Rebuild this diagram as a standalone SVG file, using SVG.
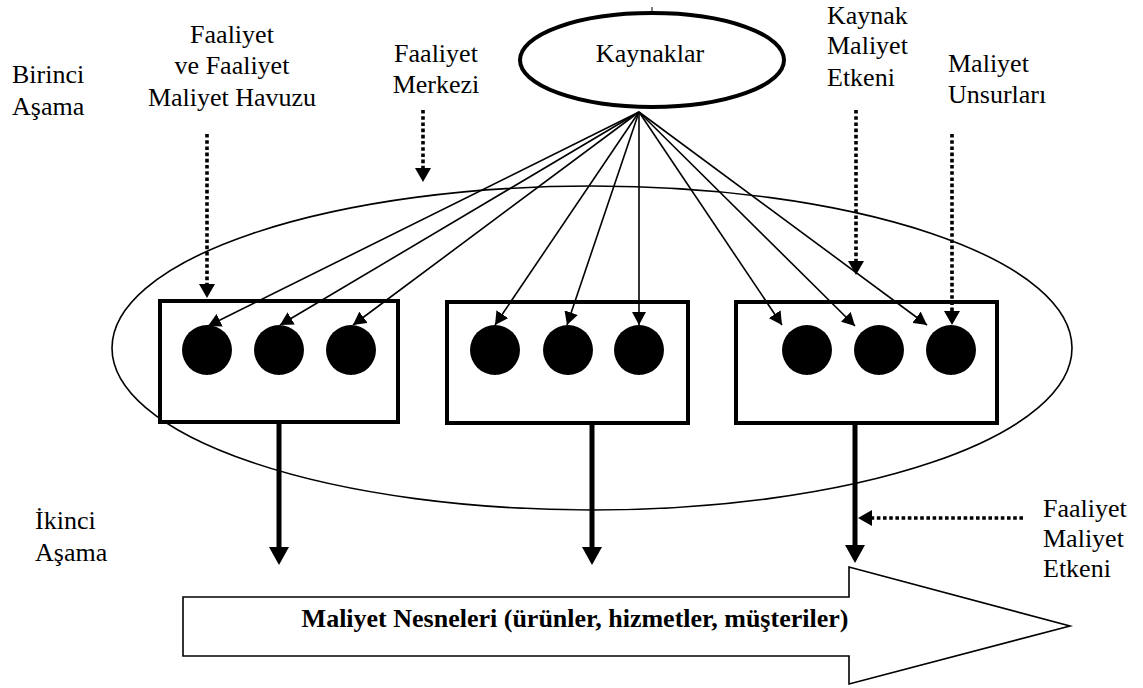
<svg xmlns="http://www.w3.org/2000/svg" width="1143" height="688" viewBox="0 0 1143 688">
  <style>
    .lbl { font-family: "Liberation Serif", "Times New Roman", serif; font-size: 26px; fill: #000; }
    .bold { font-weight: bold; }
    .mid { text-anchor: middle; }
    .thin { stroke: #000; stroke-width: 1.6; fill: none; marker-end: url(#headThin); }
    .dot { stroke: #000; stroke-width: 3.6; stroke-dasharray: 3.6 2.6; fill: none; marker-end: url(#headDot); }
    .heavy { stroke: #000; stroke-width: 5; fill: none; marker-end: url(#headHeavy); }
    .box { fill: #fff; stroke: #000; stroke-width: 4; }
    .pool { fill: #000; }
  </style>
  <defs>
    <marker id="headThin" markerUnits="userSpaceOnUse" markerWidth="14" markerHeight="14" refX="13" refY="7" orient="auto">
      <path d="M0,0 L13,7 L0,14 z" fill="#000"/>
    </marker>
    <marker id="headDot" markerUnits="userSpaceOnUse" markerWidth="15" markerHeight="16" refX="0" refY="8" orient="auto">
      <path d="M0,0 L14,8 L0,16 z" fill="#000"/>
    </marker>
    <marker id="headHeavy" markerUnits="userSpaceOnUse" markerWidth="19" markerHeight="20" refX="0" refY="10" orient="auto">
      <path d="M0,0 L18,10 L0,20 z" fill="#000"/>
    </marker>
  </defs>

  <rect width="1143" height="688" fill="#fff"/>

  <!-- activity centre boundary -->
  <g id="faaliyet-merkezi">
    <ellipse cx="592" cy="348" rx="480" ry="162" fill="none" stroke="#000" stroke-width="1.6"/>
  </g>

  <!-- resources -->
  <g id="kaynaklar">
    <ellipse cx="652" cy="60" rx="132" ry="47" fill="#fff" stroke="#000" stroke-width="4"/>
    <line x1="652" y1="7" x2="652" y2="13" stroke="#000" stroke-width="1"/>
    <text class="lbl mid" x="650" y="62">Kaynaklar</text>
  </g>

  <!-- activity cost pools -->
  <g id="havuz-1">
    <rect class="box" x="160" y="301" width="238" height="121"/>
    <circle class="pool" cx="207" cy="350" r="25"/>
    <circle class="pool" cx="279" cy="350" r="25"/>
    <circle class="pool" cx="351" cy="350" r="25"/>
  </g>
  <g id="havuz-2">
    <rect class="box" x="447" y="302" width="241" height="121"/>
    <circle class="pool" cx="495" cy="350" r="25"/>
    <circle class="pool" cx="568" cy="350" r="25"/>
    <circle class="pool" cx="639" cy="350" r="25"/>
  </g>
  <g id="havuz-3">
    <rect class="box" x="736" y="302" width="261" height="121"/>
    <circle class="pool" cx="807" cy="350" r="25"/>
    <circle class="pool" cx="879" cy="350" r="25"/>
    <circle class="pool" cx="951" cy="350" r="25"/>
  </g>

  <!-- cost objects -->
  <g id="maliyet-nesneleri">
    <path d="M183,597 L849,597 L849,567 L1070,626 L849,684 L849,656 L183,656 Z" fill="#fff" stroke="#000" stroke-width="1.6"/>
    <text class="lbl bold mid" x="575" y="627">Maliyet Nesneleri (ürünler, hizmetler, müşteriler)</text>
  </g>

  <!-- connectors -->
  <g id="baglantilar">
    <!-- resource cost drivers -->
    <line class="thin" x1="639" y1="112" x2="208" y2="326"/>
    <line class="thin" x1="639" y1="112" x2="280" y2="325"/>
    <line class="thin" x1="639" y1="112" x2="353" y2="325"/>
    <line class="thin" x1="639" y1="112" x2="495" y2="325"/>
    <line class="thin" x1="639" y1="112" x2="567" y2="325"/>
    <line class="thin" x1="639" y1="112" x2="639" y2="325"/>
    <line class="thin" x1="639" y1="112" x2="782" y2="325"/>
    <line class="thin" x1="639" y1="112" x2="855" y2="326"/>
    <line class="thin" x1="639" y1="112" x2="927" y2="325"/>

    <!-- activity cost drivers -->
    <line class="heavy" x1="279" y1="423" x2="279" y2="547"/>
    <line class="heavy" x1="592" y1="424" x2="592" y2="547"/>
    <line class="heavy" x1="855" y1="424" x2="855" y2="545"/>

    <!-- label pointers -->
    <line class="dot" x1="207" y1="134" x2="207" y2="284"/>
    <line class="dot" x1="423" y1="110" x2="423" y2="168"/>
    <line class="dot" x1="856" y1="110" x2="856" y2="261"/>
    <line class="dot" x1="952" y1="134" x2="952" y2="311"/>
    <line class="dot" x1="1023" y1="518" x2="872" y2="518"/>
  </g>

  <!-- labels -->
  <g id="etiketler">
    <text class="lbl" x="12" y="83">Birinci</text>
    <text class="lbl" x="12" y="115">Aşama</text>

    <text class="lbl mid" x="232" y="43">Faaliyet</text>
    <text class="lbl mid" x="232" y="74">ve Faaliyet</text>
    <text class="lbl mid" x="232" y="106">Maliyet Havuzu</text>

    <text class="lbl mid" x="436" y="62">Faaliyet</text>
    <text class="lbl mid" x="436" y="93">Merkezi</text>

    <text class="lbl" x="827" y="24">Kaynak</text>
    <text class="lbl" x="827" y="54">Maliyet</text>
    <text class="lbl" x="827" y="86">Etkeni</text>

    <text class="lbl" x="948" y="72">Maliyet</text>
    <text class="lbl" x="948" y="103">Unsurları</text>

    <text class="lbl" x="35" y="529">İkinci</text>
    <text class="lbl" x="35" y="561">Aşama</text>

    <text class="lbl" x="1043" y="517">Faaliyet</text>
    <text class="lbl" x="1043" y="547">Maliyet</text>
    <text class="lbl" x="1043" y="577">Etkeni</text>
  </g>
</svg>
